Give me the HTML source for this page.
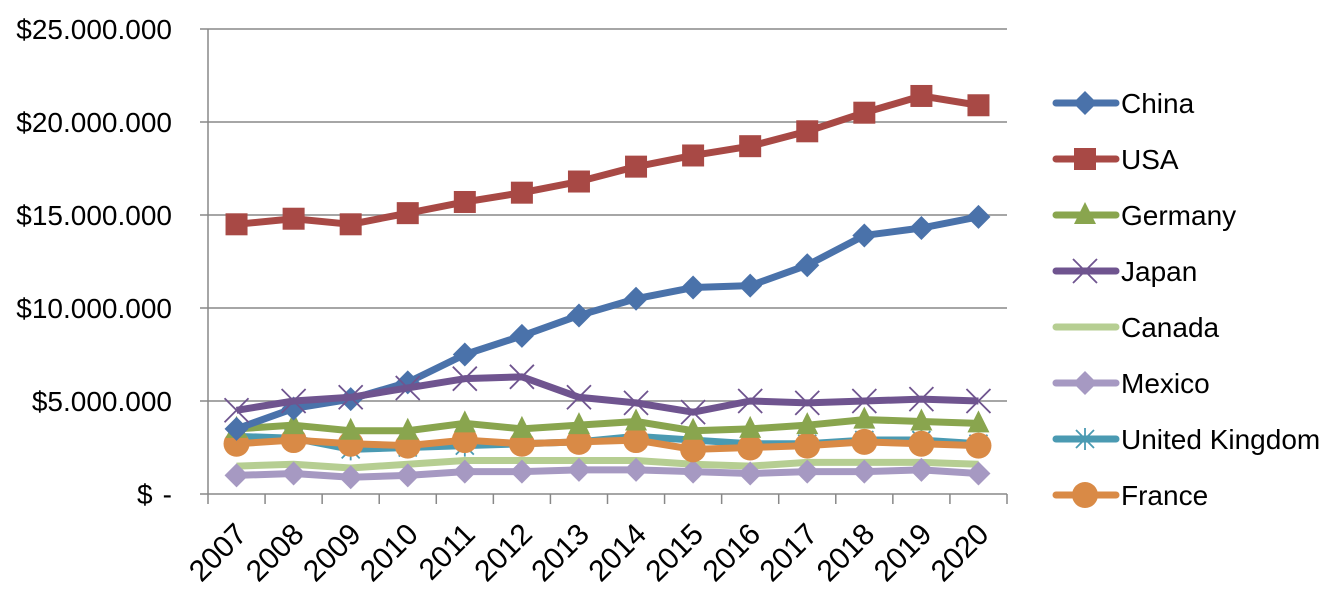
<!DOCTYPE html>
<html><head><meta charset="utf-8"><style>
body{margin:0;background:#fff;width:1332px;height:602px;overflow:hidden}
svg text{font-family:"Liberation Sans",sans-serif;fill:#000}
</style></head><body>
<svg id="c" width="1332" height="602"></svg>
<script>
const categories=["2007","2008","2009","2010","2011","2012","2013","2014","2015","2016","2017","2018","2019","2020"];
const yTicks=[0,5,10,15,20,25];
const yTickLabels=["-","$5.000.000","$10.000.000","$15.000.000","$20.000.000","$25.000.000"];
const seriesNames=["China","USA","Germany","Japan","Canada","Mexico","United Kingdom","France"];
const china=[3.5,4.6,5.1,6.0,7.5,8.5,9.6,10.5,11.1,11.2,12.3,13.9,14.3,14.9];
const usa=[14.5,14.8,14.5,15.1,15.7,16.2,16.8,17.6,18.2,18.7,19.5,20.5,21.4,20.9];
const germany=[3.5,3.7,3.4,3.4,3.8,3.5,3.7,3.9,3.4,3.5,3.7,4.0,3.9,3.8];
const japan=[4.5,5.0,5.2,5.7,6.2,6.3,5.2,4.9,4.4,5.0,4.9,5.0,5.1,5.0];
const canada=[1.5,1.6,1.4,1.6,1.8,1.8,1.8,1.8,1.6,1.5,1.7,1.7,1.7,1.6];
const mexico=[1.0,1.1,0.9,1.0,1.2,1.2,1.3,1.3,1.2,1.1,1.2,1.2,1.3,1.1];
const uk=[3.1,3.0,2.4,2.5,2.6,2.7,2.8,3.1,2.9,2.7,2.7,2.9,2.9,2.7];
const france=[2.7,2.9,2.7,2.6,2.9,2.7,2.8,2.9,2.4,2.5,2.6,2.8,2.7,2.6];

const NS="http://www.w3.org/2000/svg";
const svg=document.getElementById('c');
const L=208,R=1007,T=29,B=494,maxV=25;
const bw=(R-L)/categories.length;
const x=i=>L+bw*(i+0.5);
const y=v=>B-(v/maxV)*(B-T);
function mk(tag,a,p){const e=document.createElementNS(NS,tag);for(const k in a)e.setAttribute(k,a[k]);(p||svg).appendChild(e);return e;}

yTicks.forEach((t,i)=>{
  const g=mk('line',{x1:L-8,x2:R,y1:y(t),y2:y(t),stroke:'#888','stroke-width':1.5});
  
  
  const tx=mk('text',{x:172,y:y(t)+10,'text-anchor':'end','font-size':28});
  tx.textContent=yTickLabels[i];
  
  
});
const dol=mk('text',{x:137,y:B+10,'font-size':28});
dol.textContent='$';


const ax=mk('line',{x1:L,x2:L,y1:T,y2:B,stroke:'#888','stroke-width':1.5});


for(let i=0;i<=categories.length;i++){
  const tk=mk('line',{x1:L+bw*i,x2:L+bw*i,y1:B,y2:B+10,stroke:'#888','stroke-width':1.5});
  
  
}
categories.forEach((c,i)=>{
  const ax0=x(i)+12, ay0=B+42;
  const t=mk('text',{x:ax0,y:ay0,'text-anchor':'end','font-size':30,transform:`rotate(-45 ${ax0} ${ay0})`});
  t.textContent=c;
  
  
});

const data=[china,usa,germany,japan,canada,mexico,uk,france];
const colors=["#4a72aa","#a84945","#89a54e","#6f548f","#b6ce92","#a699c2","#4a9ab2","#d98a46"];
const markers=["diamond","square","triangle","x","none","diamond","star","circle"];
function marker(type,cx,cy,col,p){
  if(type==='diamond')return mk('polygon',{points:`${cx},${cy-12} ${cx+12},${cy} ${cx},${cy+12} ${cx-12},${cy}`,fill:col},p);
  if(type==='square')return mk('rect',{x:cx-11,y:cy-11,width:22,height:22,fill:col},p);
  if(type==='triangle')return mk('polygon',{points:`${cx},${cy-13} ${cx+11},${cy+9} ${cx-11},${cy+9}`,fill:col},p);
  if(type==='circle')return mk('circle',{cx:cx,cy:cy,r:13,fill:col},p);
  if(type==='x')return mk('path',{d:`M${cx-12},${cy-12}L${cx+12},${cy+12}M${cx-12},${cy+12}L${cx+12},${cy-12}`,stroke:col,'stroke-width':1.8,fill:'none'},p);
  if(type==='star')return mk('path',{d:`M${cx-9},${cy-9}L${cx+9},${cy+9}M${cx-9},${cy+9}L${cx+9},${cy-9}M${cx},${cy-11}L${cx},${cy+11}`,stroke:col,'stroke-width':1.8,fill:'none'},p);
  return null;
}
const order=[4,5,6,7,2,0,3,1];
order.forEach(s=>{
  const g=mk('g',{});
  
  
  const pts=data[s].map((v,i)=>x(i)+','+y(v)).join(' ');
  mk('polyline',{points:pts,fill:'none',stroke:colors[s],'stroke-width':7,'stroke-linejoin':'round'},g);
  data[s].forEach((v,i)=>{const m=marker(markers[s],x(i),y(v),colors[s],g);if(m){}});
});

seriesNames.forEach((n,i)=>{
  const cy=103+i*56;
  const g=mk('g',{});
  
  
  mk('line',{x1:1056,x2:1116,y1:cy,y2:cy,stroke:colors[i],'stroke-width':7,'stroke-linecap':'round'},g);
  marker(markers[i],1085,cy,colors[i],g);
  const t=mk('text',{x:1121,y:cy+10,'font-size':28},g);
  t.textContent=n;
});
</script>
</body></html>
